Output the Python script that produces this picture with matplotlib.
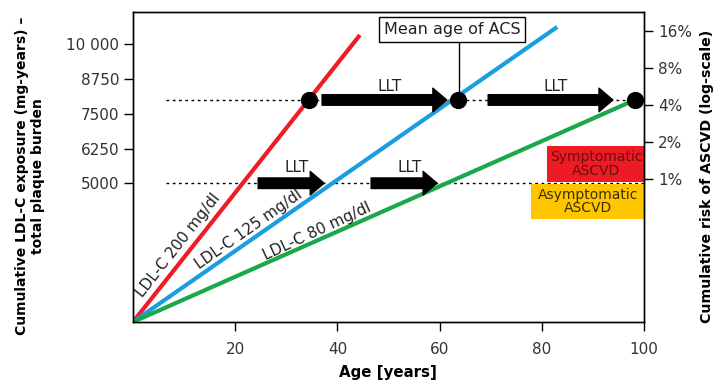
import matplotlib
matplotlib.use("Agg")
import matplotlib.pyplot as plt
from matplotlib.patches import FancyArrowPatch, Rectangle

plt.rcParams["font.family"] = ["DejaVu Sans"]

# lines: cumulative exposure rising from birth (schematic)
line_labels = ["LDL-C 200 mg/dl", "LDL-C 125 mg/dl", "LDL-C 80 mg/dl"]
line_colors = ["#ee1c25", "#1a9ee0", "#19a84a"]
age_end = [44.4, 83.0, 98.2]
exposure_end = [10340, 10630, 8000]

# label placement along each line (age, exposure, angle)
label_age = [8.8, 22.7, 36.0]
label_exp = [2775, 3350, 3280]
label_rot = [52, 35, 25]

# thresholds
thr_upper = 8000
thr_lower = 5000
dot_ages = [34.5, 63.6, 98.2]

# lipid lowering therapy arrows (start age, end age, level)
llt_start = [37.0, 69.5, 24.5, 46.6]
llt_end = [61.4, 93.9, 37.4, 59.5]
llt_level = [8000, 8000, 5000, 5000]

ytick_vals = [5000, 6250, 7500, 8750, 10000]
ytick_labels = ["5000", "6250", "7500", "8750", "10 000"]
risk_ticks = [1, 2, 4, 8, 16]
risk_labels = ["1%", "2%", "4%", "8%", "16%"]

fig = plt.figure(figsize=(7.18, 3.83), dpi=100)
ax = fig.add_axes([0.1852, 0.1593, 0.7118, 0.8094])
ax2 = ax.twinx()

ax.set_xlim(0, 100)
ax.set_ylim(0, 11170)

tick_col = "#333333"
ax.set_xticks([20, 40, 60, 80, 100])
ax.set_xticks([10, 30, 50, 70, 90], minor=True)
ax.set_yticks(ytick_vals)
ax.set_yticklabels(ytick_labels)
ax.tick_params(which="both", direction="out", length=6.5, width=1, colors="black",
               labelcolor=tick_col, labelsize=11)
ax.tick_params(axis="x", pad=8)
for s in ax.spines.values():
    s.set_linewidth(1)
for s in ax2.spines.values():
    s.set_linewidth(1)

ax2.set_yscale("log")
ax2.set_ylim(0.0688, 22.8)
ax2.set_yticks(risk_ticks)
ax2.set_yticklabels(risk_labels)
ax2.minorticks_off()
ax2.tick_params(direction="out", length=6.5, width=1, labelcolor=tick_col, labelsize=11)

# dotted threshold lines
ax.plot([6.5, dot_ages[-1]], [thr_upper, thr_upper], color="black", lw=1,
        ls=(0, (2, 2.5)), zorder=1)
ax.plot([6.5, 100], [thr_lower, thr_lower], color="black", lw=1,
        ls=(0, (2, 2.5)), zorder=1)

for a, e, c in zip(age_end, exposure_end, line_colors):
    ax.plot([0, a], [0, e], color=c, lw=3, solid_capstyle="butt", zorder=2)

for lab, a, e, r in zip(line_labels, label_age, label_exp, label_rot):
    ax.text(a, e, lab, rotation=r, rotation_mode="anchor", ha="center", va="center",
            fontsize=11, color="#222222", zorder=3)

# arrows
for x0, x1, lv in zip(llt_start, llt_end, llt_level):
    arr = FancyArrowPatch((x0, lv), (x1, lv),
                          arrowstyle="simple,head_length=0.5,head_width=0.85,tail_width=0.38",
                          mutation_scale=20, color="black", shrinkA=0, shrinkB=0, zorder=4)
    ax.add_patch(arr)
    ax.text((x0 + x1) / 2 + 1, lv + 500 + (0 if lv == 8000 else 80), "LLT",
            ha="center", va="center", fontsize=11, color="#222222")

ax.scatter(dot_ages, [thr_upper] * 3, s=130, color="black", zorder=5)

# mean age of ACS
ax.plot([63.8, 63.8], [thr_upper, 10090], color="black", lw=1, zorder=3)
ax.text(62.4, 10540, "Mean age of ACS", ha="center", va="center", fontsize=11.5,
        color="#222222",
        bbox=dict(boxstyle="square,pad=0.3", fc="white", ec="black", lw=1))

# symptomatic / asymptomatic boxes
ax.add_patch(Rectangle((81.1, 5045), 18.9, 1297, fc="#ed1c24", ec="none", zorder=1))
ax.text(90.6, 5700, "Symptomatic\nASCVD", ha="center", va="center", fontsize=10,
        color="#6b0d0d", linespacing=0.95, zorder=2)
ax.add_patch(Rectangle((77.9, 3712), 22.1, 1261, fc="#ffc600", ec="none", zorder=1))
ax.text(89.0, 4340, "Asymptomatic\nASCVD", ha="center", va="center", fontsize=10,
        color="#3a2f00", linespacing=0.95, zorder=2)

fig.text(0.5404, 1 - 373 / 383, "Age [years]", ha="center", va="center",
         fontsize=10.8, fontweight="bold")
fig.text(30 / 718, 1 - 176 / 383,
         "Cumulative LDL-C exposure (mg-years) \u2013\ntotal plaque burden",
         rotation=90, ha="center", va="center", fontsize=10, fontweight="bold",
         multialignment="center", linespacing=1.15)
fig.text(707 / 718, 1 - 176 / 383, "Cumulative risk of ASCVD (log-scale)",
         rotation=90, ha="center", va="center", fontsize=10.2, fontweight="bold")

fig.savefig("out.png", dpi=100)
